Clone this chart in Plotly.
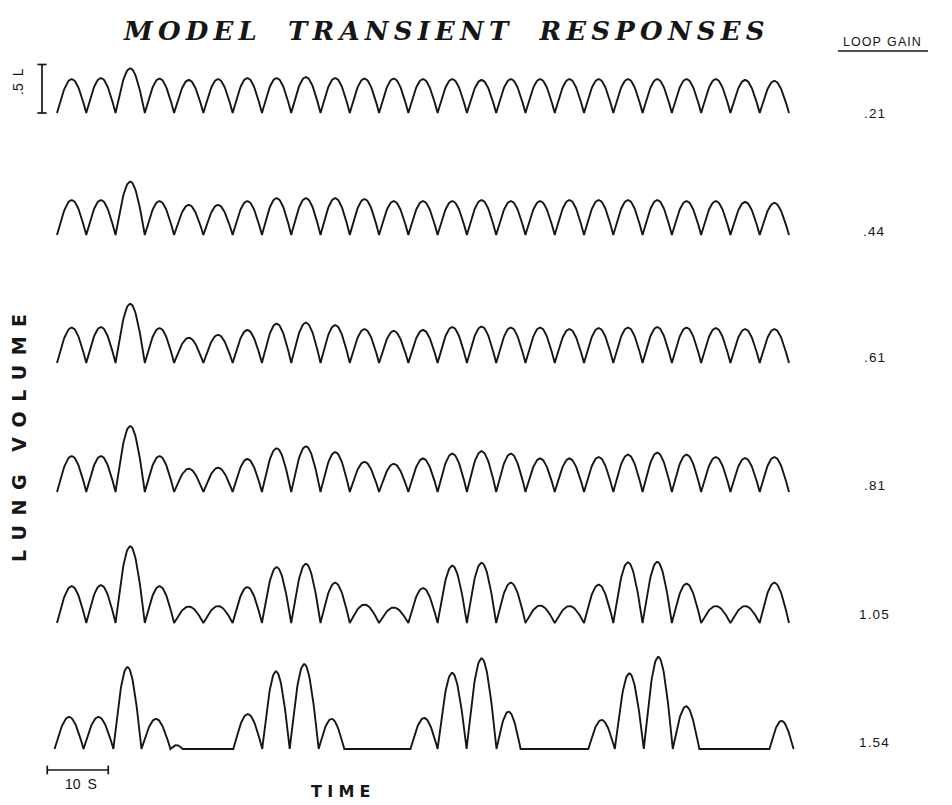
import numpy as np
import plotly.graph_objects as go

# ---------------------------------------------------------------------------
# Model lung-volume traces, breath by breath (tidal amplitude in litres)
# ---------------------------------------------------------------------------
BREATH_PERIOD = 4.8  # s, regular breathing period

gain_labels = [".21", ".44", ".61", ".81", "1.05", "1.54"]

amp_gain_021 = [0.35, 0.36, 0.46, 0.355, 0.34, 0.35, 0.36, 0.36, 0.37, 0.36,
                0.355, 0.355, 0.35, 0.35, 0.34, 0.35, 0.35, 0.35, 0.35, 0.35,
                0.35, 0.35, 0.35, 0.34, 0.33]

amp_gain_044 = [0.36, 0.36, 0.55, 0.35, 0.31, 0.31, 0.35, 0.38, 0.38, 0.38,
                0.37, 0.35, 0.35, 0.35, 0.36, 0.35, 0.35, 0.36, 0.36, 0.36,
                0.36, 0.35, 0.35, 0.34, 0.33]

amp_gain_061 = [0.365, 0.37, 0.61, 0.36, 0.26, 0.29, 0.34, 0.405, 0.415, 0.39,
                0.35, 0.33, 0.34, 0.37, 0.375, 0.365, 0.365, 0.35, 0.36, 0.365,
                0.37, 0.365, 0.36, 0.35, 0.35]

amp_gain_081 = [0.37, 0.37, 0.68, 0.37, 0.24, 0.25, 0.34, 0.45, 0.47, 0.41,
                0.31, 0.29, 0.345, 0.395, 0.42, 0.395, 0.345, 0.345, 0.36, 0.385,
                0.405, 0.385, 0.36, 0.35, 0.36]

amp_gain_105 = [0.38, 0.39, 0.79, 0.38, 0.17, 0.175, 0.37, 0.575, 0.61, 0.415,
                0.19, 0.16, 0.36, 0.59, 0.62, 0.415, 0.18, 0.175, 0.395, 0.625,
                0.63, 0.405, 0.175, 0.175, 0.415]

# Loop gain 1.54: periodic breathing; each segment is one breath or one apnoea
# (amplitude 0 = apnoea, flat lung volume)
dur_gain_154 = [4.75, 4.9, 4.6, 4.75, 2.0, 8.3,
                4.75, 4.5, 4.75, 4.2, 10.85,
                4.45, 4.75, 4.9, 3.95, 11.1,
                4.35, 4.75, 4.75, 4.35, 11.5,
                3.95]
amp_gain_154 = [0.33, 0.33, 0.845, 0.31, 0.04, 0.0,
                0.36, 0.80, 0.875, 0.31, 0.0,
                0.32, 0.785, 0.935, 0.385, 0.0,
                0.30, 0.78, 0.95, 0.44, 0.0,
                0.29]

traces_amp = [amp_gain_021, amp_gain_044, amp_gain_061,
              amp_gain_081, amp_gain_105, amp_gain_154]
traces_dur = [[BREATH_PERIOD] * len(a) for a in traces_amp[:5]] + [dur_gain_154]
trace_start = [0.0, 0.0, 0.0, 0.0, 0.0, -0.4]   # s

# ---------------------------------------------------------------------------
# Layout geometry (pixels of the 952 x 805 page)
# ---------------------------------------------------------------------------
W, H = 952, 805
X0_PX = 57.0          # pixel position of t = 0
PX_PER_S = 6.1        # horizontal scale
PX_PER_L = 97.0       # vertical scale
baselines_px = [113, 235, 363, 492, 623, 749]
label_y_px = [113, 232, 357, 485, 614, 742]
INK = "#161616"


def breath_curve(durations, amps, t0=0.0, pts=40):
    """Each breath is an arch rising from and returning to end-expiratory volume."""
    t_all, v_all = [], []
    for d, a in zip(durations, amps):
        phi = np.linspace(0.0, 1.0, pts)
        t_all.append(t0 + phi * d)
        v_all.append(a * np.sin(np.pi * phi))
        t0 += d
    return np.concatenate(t_all), np.concatenate(v_all)


def px_x(px):
    return px / W


def px_y(py):
    return 1.0 - py / H


fig = go.Figure()

for i, (durs, amps) in enumerate(zip(traces_dur, traces_amp)):
    t, v = breath_curve(durs, amps, trace_start[i])
    fig.add_trace(go.Scatter(
        x=t, y=v, mode="lines",
        line=dict(color=INK, width=1.9),
        yaxis="y" if i == 0 else f"y{i + 1}",
        hoverinfo="skip", showlegend=False,
    ))

layout_axes = {}
for i, b in enumerate(baselines_px):
    key = "yaxis" if i == 0 else f"yaxis{i + 1}"
    ax = dict(range=[-(H - b) / PX_PER_L, b / PX_PER_L], visible=False,
              domain=[0, 1], fixedrange=True)
    if i > 0:
        ax["overlaying"] = "y"
    layout_axes[key] = ax

x_range = [-X0_PX / PX_PER_S, (W - X0_PX) / PX_PER_S]


def spaced(text, gap, word_gap):
    return word_gap.join(gap.join(list(w)) for w in text.split(" "))


annotations = []

# Title
annotations.append(dict(
    text="<b><i>" + spaced("MODEL TRANSIENT RESPONSES", "\u2009", "\u2003\u2009") + "</i></b>",
    x=px_x(444), y=px_y(31), xref="paper", yref="paper",
    xanchor="center", yanchor="middle", showarrow=False,
    font=dict(family="DejaVu Serif", size=26, color=INK),
))

# Loop gain header and values
annotations.append(dict(
    text=spaced("LOOP GAIN", "\u200a", "\u2002"),
    x=px_x(882), y=px_y(42), xref="paper", yref="paper",
    xanchor="center", yanchor="middle", showarrow=False,
    font=dict(family="Liberation Sans", size=12.5, color=INK),
))
for lab, ly in zip(gain_labels, label_y_px):
    annotations.append(dict(
        text=spaced(lab, "\u200a", " "),
        x=px_x(874), y=px_y(ly), xref="paper", yref="paper",
        xanchor="center", yanchor="middle", showarrow=False,
        font=dict(family="Liberation Sans", size=13.5, color=INK),
    ))

# Axis captions
annotations.append(dict(
    text="<b>" + spaced("LUNG VOLUME", "\u2002", "\u2003\u2009") + "</b>",
    x=px_x(19), y=px_y(438), xref="paper", yref="paper",
    xanchor="center", yanchor="middle", showarrow=False, textangle=-90,
    font=dict(family="DejaVu Sans", size=19, color=INK),
))
annotations.append(dict(
    text="<b>" + spaced("TIME", "\u2004", " ") + "</b>",
    x=px_x(341), y=px_y(791), xref="paper", yref="paper",
    xanchor="center", yanchor="middle", showarrow=False,
    font=dict(family="DejaVu Sans", size=16, color=INK),
))

# Scale bars
LBAR_T = -2.46     # s, x position of the volume scale bar
TBAR_T0 = -1.6     # s, start of the 10 s time bar
TBAR_V = -(770 - baselines_px[-1]) / PX_PER_L
CAP_T = 0.75
CAP_V = 0.045

annotations.append(dict(
    text=".5\u2002L", x=px_x(18), y=px_y(82), xref="paper", yref="paper",
    xanchor="center", yanchor="middle", showarrow=False, textangle=-90,
    font=dict(family="Liberation Sans", size=14, color=INK),
))
annotations.append(dict(
    text="10\u2002S", x=TBAR_T0 + 5.5, y=TBAR_V - 0.14, xref="x", yref="y6",
    xanchor="center", yanchor="middle", showarrow=False,
    font=dict(family="Liberation Sans", size=14, color=INK),
))

line_style = dict(color=INK, width=1.7)
shapes = [
    # 0.5 L vertical bar with caps
    dict(type="line", xref="x", yref="y", x0=LBAR_T, x1=LBAR_T, y0=0, y1=0.5, line=line_style),
    dict(type="line", xref="x", yref="y", x0=LBAR_T - CAP_T, x1=LBAR_T + CAP_T, y0=0, y1=0, line=line_style),
    dict(type="line", xref="x", yref="y", x0=LBAR_T - CAP_T, x1=LBAR_T + CAP_T, y0=0.5, y1=0.5, line=line_style),
    # 10 s horizontal bar with end ticks
    dict(type="line", xref="x", yref="y6", x0=TBAR_T0, x1=TBAR_T0 + 10, y0=TBAR_V, y1=TBAR_V, line=line_style),
    dict(type="line", xref="x", yref="y6", x0=TBAR_T0, x1=TBAR_T0, y0=TBAR_V - CAP_V, y1=TBAR_V + CAP_V, line=line_style),
    dict(type="line", xref="x", yref="y6", x0=TBAR_T0 + 10, x1=TBAR_T0 + 10, y0=TBAR_V - CAP_V, y1=TBAR_V + CAP_V, line=line_style),
    # underline of the loop gain header
    dict(type="line", xref="paper", yref="paper", x0=px_x(838), x1=px_x(928),
         y0=px_y(51), y1=px_y(51), line=dict(color=INK, width=1.3)),
]

fig.update_layout(
    width=W, height=H,
    margin=dict(l=0, r=0, t=0, b=0),
    paper_bgcolor="white", plot_bgcolor="white",
    xaxis=dict(range=x_range, visible=False, domain=[0, 1], fixedrange=True),
    annotations=annotations,
    shapes=shapes,
    showlegend=False,
    **layout_axes,
)

fig.write_html("out.html", config={"displayModeBar": False})
